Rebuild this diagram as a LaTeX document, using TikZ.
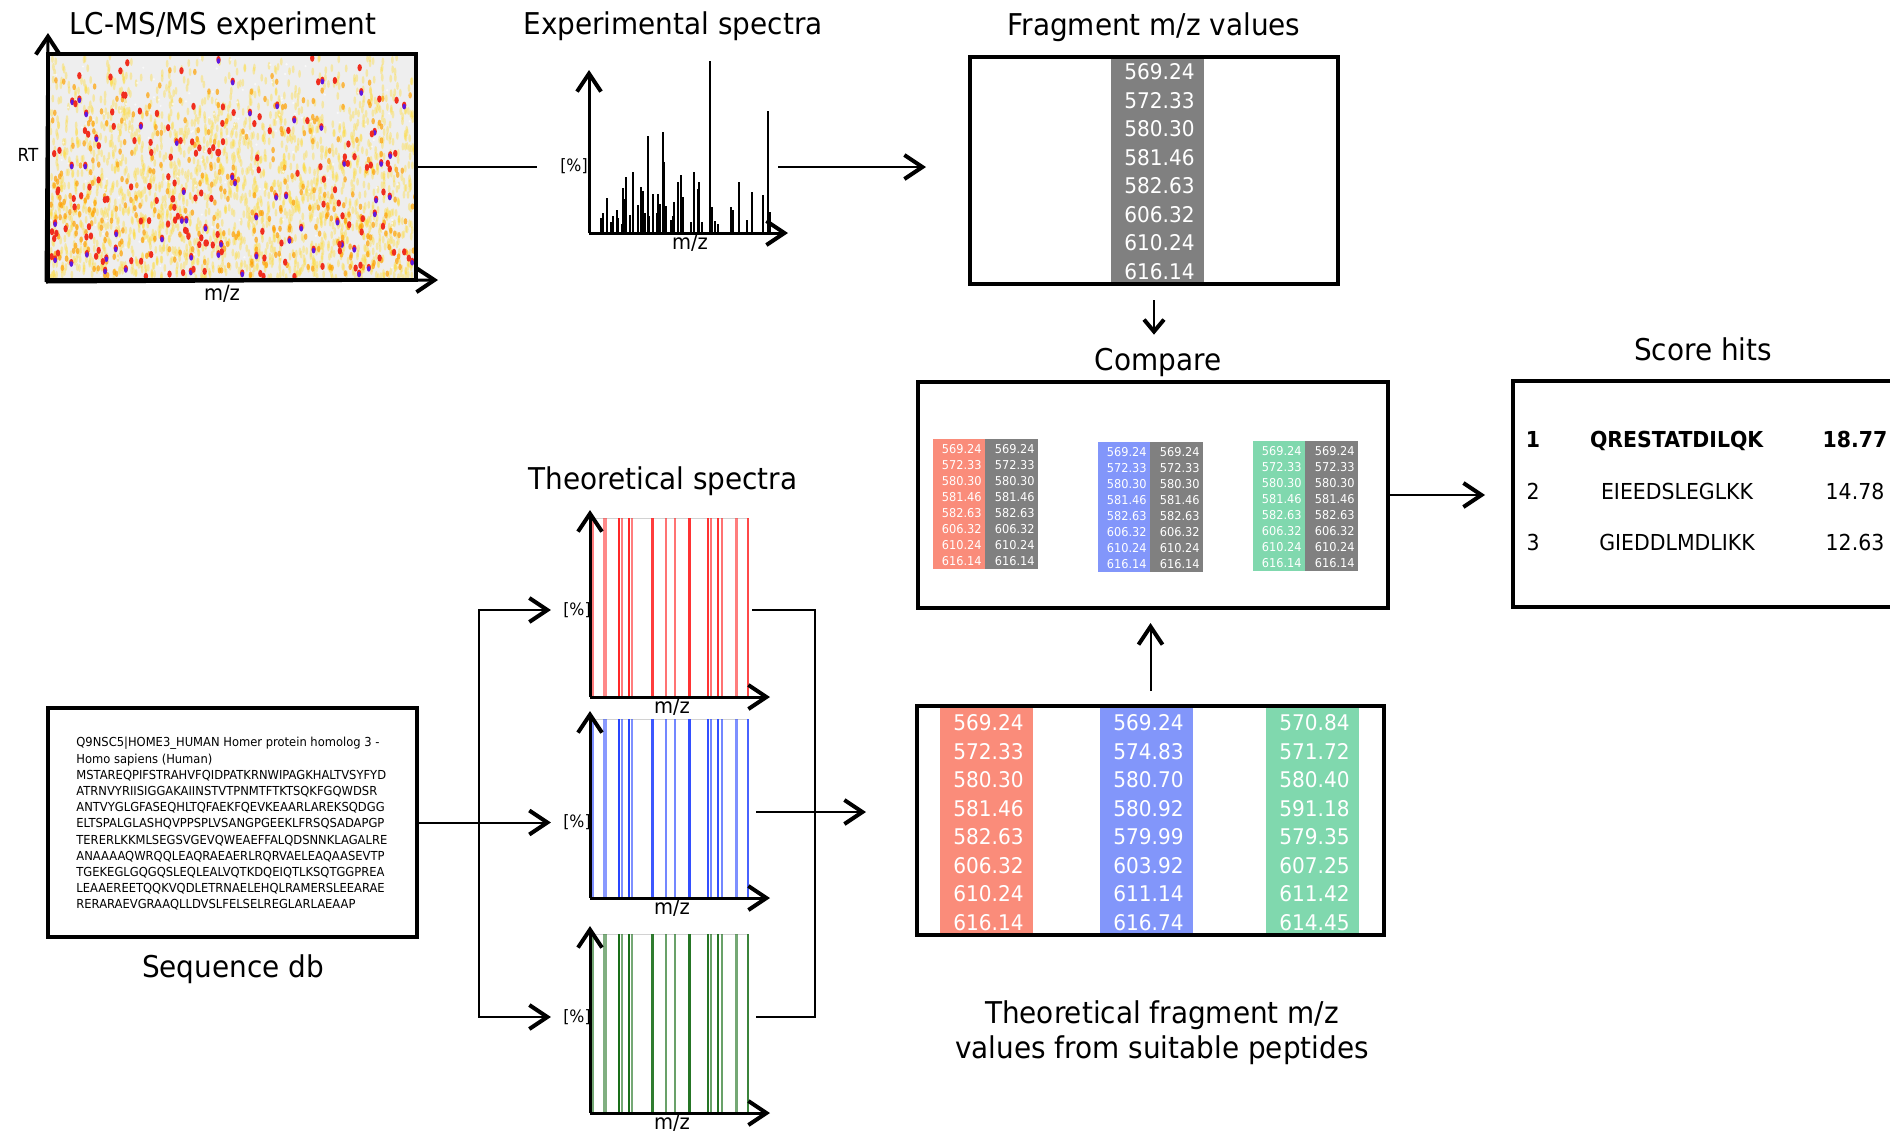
\documentclass[tikz,border=0pt]{standalone}
\usepackage{fontspec}
\setmainfont{DejaVu Sans}[FakeStretch=0.93]
\usetikzlibrary{arrows.meta,positioning}

\definecolor{hmbg}{RGB}{238,238,238}
\definecolor{hmyel}{RGB}{255,220,60}
\definecolor{hmora}{RGB}{255,160,0}
\definecolor{hmred}{RGB}{240,45,30}
\definecolor{hmpur}{RGB}{95,25,225}
\definecolor{colred}{RGB}{250,140,122}
\definecolor{colblue}{RGB}{130,150,250}
\definecolor{colgreen}{RGB}{128,216,174}
\definecolor{colgray}{RGB}{128,128,128}
\definecolor{specred}{RGB}{255,40,40}
\definecolor{specblue}{RGB}{40,70,255}
\definecolor{specgreen}{RGB}{25,110,25}

\def\explist{569.24,572.33,580.30,581.46,582.63,606.32,610.24,616.14}
\def\bluelist{569.24,574.83,580.70,580.92,579.99,603.92,611.14,616.74}
\def\greenlist{570.84,571.72,580.40,591.18,579.35,607.25,611.42,614.45}

\tikzset{
  box/.style={draw,line width=2pt,inner sep=0pt},
  title/.style={font=\fontsize{15}{18}\selectfont,anchor=base},
  lbl/.style={font=\fontsize{8.5}{10}\selectfont,inner sep=1pt},
  mz/.style={font=\fontsize{10.5}{12}\selectfont,anchor=base,inner sep=0pt},
  num/.style={font=\fontsize{10.8}{12}\selectfont,text=white,anchor=east,inner sep=0pt},
  mini/.style={font=\fontsize{6.1}{7}\selectfont,text=white,anchor=east,inner sep=0pt},
  seq/.style={font=\fontsize{6.2}{8.1}\selectfont,align=left,anchor=north west,inner sep=0pt},
  hit/.style={font=\fontsize{11}{13}\selectfont,anchor=base},
  conn/.style={line width=1pt},
  arr/.style={conn,-{Straight Barb[length=9pt,width=12pt,line width=2pt]}},
  sarr/.style={conn,-{Straight Barb[length=6pt,width=10pt,line width=2pt]}},
  axis/.style={line width=1.5pt,-{Straight Barb[length=9pt,width=12pt,line width=2pt]}},
  peak/.style={line width=0.65pt},
}

% column of m/z values: left, top, bottom, colour, list, first row, name
\newcommand{\numcol}[7]{%
  \fill[#4] (#1,#2) rectangle (#1+93,#3);
  \foreach \v [count=\k] in #5
    \node[num] (#7\k) at (#1+84,#6+28.5*\k-28.5) {\v};
}
% small pair of columns in the compare box: left, top, colour, name
\newcommand{\minitab}[4]{%
  \fill[#3] (#1,#2) rectangle ++(52,130);
  \fill[colgray] (#1+52,#2) rectangle ++(53,130);
  \foreach \v [count=\k] in \explist {
    \node[mini] (#4a\k) at (#1+49,#2+16*\k-5.7) {\v};
    \node[mini] (#4b\k) at (#1+102,#2+16*\k-5.7) {\v};
  }
}
% theoretical spectrum: axis y, colour, name
\newcommand{\theospec}[3]{%
  \draw[gray!35,line width=0.5pt] (593,#1-179) -- (749,#1-179);
  \foreach \bx/\bw/\bo in {3/2/.6,15/3.5/.55,29/2/1,32/2/.6,39/2/1,42/2/.6,62/3/.9,76/2/.65,85/2/.65,99/3/.95,118/2/.95,121/2/.65,128/2/.95,132/2/.65,146/3/.6,158/2/.85}
    \fill[#2,opacity=\bo] ({590+\bx-\bw/2},#1-179) rectangle ({590+\bx+\bw/2},#1);
  \draw[axis] (590,#1) -- (590,#1-187);
  \draw[axis] (590,#1) -- (770,#1);
  \node[mz] (mz#3) at (672,#1+16) {m/z};
}

\begin{document}
\begin{tikzpicture}[x=0.5pt,y=-0.5pt]
\useasboundingbox (0,0) rectangle (1890,1131);

% LC-MS/MS map
\begin{scope}
  \clip (49,55) rectangle (415,278);
  \fill[hmbg] (49,55) rectangle (415,278);
  \pgfmathsetseed{11}
  \foreach \i in {1,...,2000}{
    \pgfmathsetmacro\hx{49+366*rnd}
    \pgfmathsetmacro\hy{55+223*rnd^0.7}
    \fill[hmyel,opacity=.4] (\hx,\hy) ellipse [x radius=0.7pt,y radius=2pt];
  }
  \foreach \i in {1,...,150}{
    \pgfmathsetmacro\hx{49+366*rnd}
    \pgfmathsetmacro\hy{55+223*rnd}
    \fill[white,opacity=.7] (\hx,\hy) ellipse [x radius=0.6pt,y radius=0.6pt];
  }
  \foreach \i in {1,...,320}{
    \pgfmathsetmacro\hx{49+366*rnd}
    \pgfmathsetmacro\hy{55+223*rnd^0.6}
    \fill[hmora,opacity=.7] (\hx,\hy) ellipse [x radius=0.9pt,y radius=1.6pt];
  }
  \foreach \i in {1,...,200}{
    \pgfmathsetmacro\hx{49+366*rnd}
    \pgfmathsetmacro\hy{55+223*rnd^0.7}
    \fill[hmred] (\hx,\hy) ellipse [x radius=1.1pt,y radius=1.8pt];
    \ifnum\i<60 \fill[hmpur] (\hx,\hy+1.5) ellipse [x radius=0.9pt,y radius=1.4pt]; \fi
  }
\end{scope}
\node[box,minimum width=184pt,minimum height=113pt] (lcms) at (232,167) {};
\draw[axis] (lcms.south west) -- (48,33);
\draw[axis] (lcms.south west) -- (438,280);
\node[title] (tlcms) at (223,34) {LC-MS/MS experiment};
\node[font=\fontsize{9}{11}\selectfont] (rt) at (28,155) {RT};
\node[mz] (mzlc) at (222,300) {m/z};

% experimental spectrum
\foreach \px/\ph in {12/15,14/20,18/35,22/11,24/17,28/23,29/15,33/9,34/45,35/34,37/56,41/18,44/61,49/28,52/46,54/42,56/20,59/97,60/17,64/39,68/20,69/39,71/29,74/101,75/71,77/27,82/13,84/17,85/31,89/51,92/58,94/36,102/11,105/61,109/44,110/51,113/11,121/172,123/26,126/12,129/9,142/26,144/23,150/51,158/13,163/41,174/38,179/122,181/21}
  \draw[peak] (589+\px,233) -- ++(0,-\ph);
\draw[axis] (589,233) -- (589,70);
\draw[axis] (589,233) -- (788,233);
\node[lbl] (pcte) at (574,166) {[\%]};
\node[mz] (mzexp) at (690,249) {m/z};
\node[title] (texp) at (673,34) {Experimental spectra};
\coordinate (expL) at (537,167);
\coordinate (expR) at (778,167);
\draw[conn] (lcms.east) -- (expL);

% fragment values
\numcol{1111}{57}{286}{colgray}{\explist}{72}{fr}
\node[box,minimum width=184pt,minimum height=113.5pt] (frag) at (1154,170.5) {};
\node[title] (tfrag) at (1154,35) {Fragment m/z values};
\draw[arr,shorten >=21pt] (expR) -- (expR -| frag.west);

% compare
\node[title] (tcomp) at (1158,370) {Compare};
\draw[sarr,shorten <=7pt,shorten >=3pt] (frag.south) -- (frag.south |- tcomp.north);
\minitab{933}{439}{colred}{ca}
\minitab{1098}{442}{colblue}{cb}
\minitab{1253}{441}{colgreen}{cc}
\node[box,minimum width=235pt,minimum height=113pt] (comp) at (1153,495) {};

% score hits
\node[title] (tscore) at (1703,360) {Score hits};
\node[minimum width=188.5pt,minimum height=113pt,inner sep=0pt,anchor=west] (score) at (1513,494) {};
\draw[line width=2pt] (score.north east) -- (score.north west) -- (score.south west) -- (score.south east);
\node[hit] (rk1) at (1533,447) {\textbf{1}};
\node[hit] (pep1) at (1677,447) {\textbf{QRESTATDILQK}};
\node[hit] (sc1) at (1855,447) {\textbf{18.77}};
\node[hit] (rk2) at (1533,499) {2};
\node[hit] (pep2) at (1677,499) {EIEEDSLEGLKK};
\node[hit] (sc2) at (1855,499) {14.78};
\node[hit] (rk3) at (1533,550) {3};
\node[hit] (pep3) at (1677,550) {GIEDDLMDLIKK};
\node[hit] (sc3) at (1855,550) {12.63};
\draw[arr,shorten >=14pt] (comp.east) -- (comp.east -| score.west);

% sequence database
\node[box,minimum width=184.5pt,minimum height=114.5pt] (seqdb) at (232.5,822.5) {};
\node[seq] (seqtxt) at (76,737) {Q9NSC5|HOME3\_HUMAN Homer protein homolog 3 -\\
Homo sapiens (Human)\\
MSTAREQPIFSTRAHVFQIDPATKRNWIPAGKHALTVSYFYD\\
ATRNVYRIISIGGAKAIINSTVTPNMTFTKTSQKFGQWDSR\\
ANTVYGLGFASEQHLTQFAEKFQEVKEAARLAREKSQDGG\\
ELTSPALGLASHQVPPSPLVSANGPGEEKLFRSQSADAPGP\\
TERERLKKMLSEGSVGEVQWEAEFFALQDSNNKLAGALRE\\
ANAAAAQWRQQLEAQRAEAERLRQRVAELEAQAASEVTP\\
TGEKEGLGQGQSLEQLEALVQTKDQEIQTLKSQTGGPREA\\
LEAAEREETQQKVQDLETRNAELEHQLRAMERSLEEARAE\\
RERARAEVGRAAQLLDVSLFELSELREGLARLAEAAP};
\node[title] (tseq) at (233,977) {Sequence db};

% theoretical spectra
\node[title] (ttheo) at (663,489) {Theoretical spectra};
\theospec{697}{specred}{r}
\theospec{898}{specblue}{b}
\theospec{1113}{specgreen}{g}
\node[lbl] (pctr) at (577,610) {[\%]};
\node[lbl] (pctb) at (577,822.5) {[\%]};
\node[lbl] (pctg) at (577,1017) {[\%]};
\coordinate (fork) at (479,822.5);
\draw[arr,shorten >=5pt] (seqdb.east) -- (pctb.west);
\draw[arr,shorten >=5pt] (fork) |- (pctr.west);
\draw[arr,shorten >=5pt] (fork) |- (pctg.west);

% theoretical fragment values
\numcol{940}{706}{937}{colred}{\explist}{723}{tr}
\numcol{1100}{706}{937}{colblue}{\bluelist}{723}{tb}
\numcol{1266}{706}{937}{colgreen}{\greenlist}{723}{tg}
\node[box,minimum width=233.5pt,minimum height=114.5pt] (theo) at (1150.5,820.5) {};
\coordinate (spr) at (752,610);
\coordinate (spb) at (756,812);
\coordinate (spg) at (756,1017);
\coordinate (join) at (815,812);
\draw[conn] (spr) -| (join) |- (spg);
\draw[arr,shorten >=24.5pt] (spb) -- (spb -| theo.west);
\draw[arr,shorten <=6.5pt,shorten >=6.5pt] (theo.north) -- (theo.north |- comp.south);
\node[title] (bt1) at (1162,1023) {Theoretical fragment m/z};
\node[title] (bt2) at (1162,1058) {values from suitable peptides};
\end{tikzpicture}
\end{document}
